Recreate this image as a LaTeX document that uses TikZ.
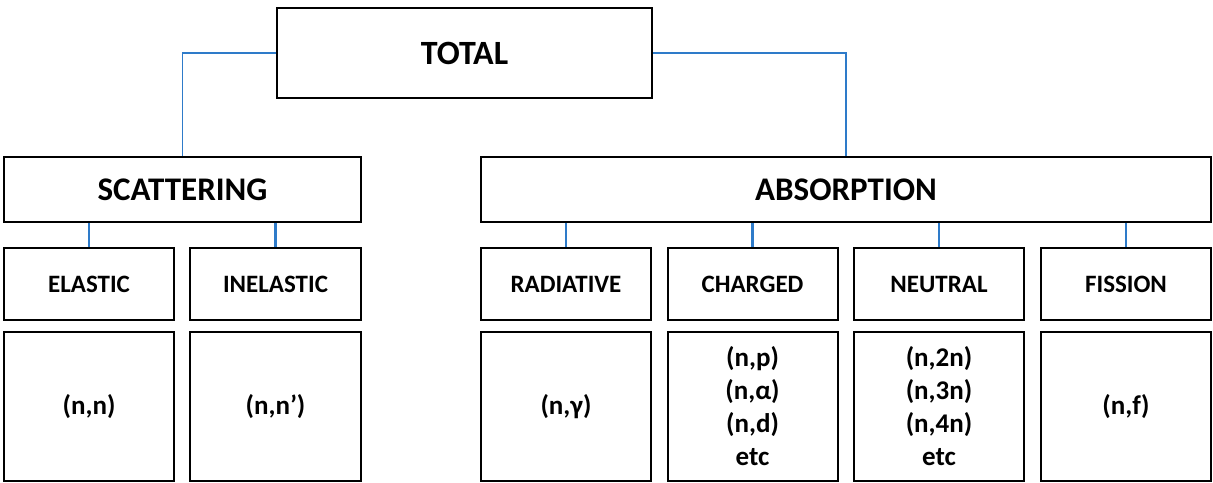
\documentclass[tikz,border=0pt]{standalone}
\usepackage{fontspec}
\setmainfont{Carlito}
\begin{document}
\begin{tikzpicture}[x=1pt,y=-1pt,
  box/.style={draw=black,line width=2pt,inner sep=0pt,font=\bfseries},
  big/.style={box,font=\fontsize{33}{38}\selectfont\bfseries},
  cat/.style={box,minimum width=170pt,minimum height=72pt,font=\fontsize{25}{30}\selectfont\bfseries},
  rx/.style={box,minimum width=170pt,minimum height=149pt,align=center,font=\fontsize{27}{33}\selectfont\bfseries},
  link/.style={draw={rgb,255:red,46;green,123;blue,201},line width=1.6pt},
  stub/.style={draw={rgb,255:red,46;green,123;blue,201},line width=2.6pt}]
\useasboundingbox (0,0) rectangle (1213,482);
\node[big,minimum width=375pt,minimum height=90pt,font=\fontsize{34}{40}\selectfont\bfseries] (total) at (464.5,53) {TOTAL};
\node[big,minimum width=357pt,minimum height=65pt] (scat) at (182.5,189.5) {SCATTERING};
\node[big,minimum width=730pt,minimum height=65pt] (abs) at (846,189.5) {ABSORPTION};
\node[cat] (elastic) at (89,284) {ELASTIC};
\node[cat,minimum width=171pt] (inelastic) at (275.5,284) {INELASTIC};
\node[cat] (radiative) at (566,284) {RADIATIVE};
\node[cat] (charged) at (752.5,284) {CHARGED};
\node[cat] (neutral) at (939,284) {NEUTRAL};
\node[cat] (fission) at (1126,284) {FISSION};
\node[rx] (elasticr) at (89,406.5) {(n,n)};
\node[rx,minimum width=171pt] (inelasticr) at (275.5,406.5) {(n,n’)};
\node[rx] (radiativer) at (566,406.5) {(n,γ)};
\node[rx] (chargedr) at (752.5,406.5) {(n,p)\\(n,α)\\(n,d)\\etc};
\node[rx] (neutralr) at (939,406.5) {(n,2n)\\(n,3n)\\(n,4n)\\etc};
\node[rx] (fissionr) at (1126,406.5) {(n,f)};
\draw[link] (total.west) -| (scat.north);
\draw[link] (total.east) -| (abs.north);
\foreach \c in {elastic,inelastic}
  \draw[stub] (scat.south -| \c.north) -- (\c.north);
\foreach \c in {radiative,charged,neutral,fission}
  \draw[stub] (abs.south -| \c.north) -- (\c.north);
\end{tikzpicture}
\end{document}
